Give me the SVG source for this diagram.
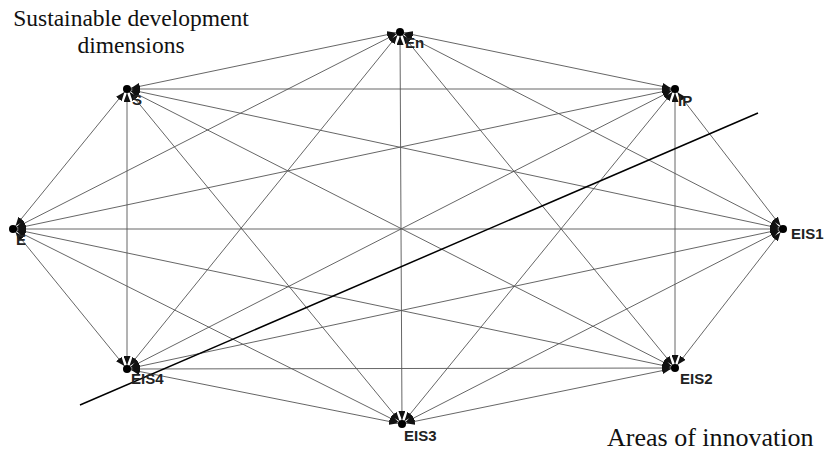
<svg xmlns="http://www.w3.org/2000/svg" width="827" height="456" viewBox="0 0 827 456">
<defs>
<marker id="ah" viewBox="0 0 14 7" markerWidth="14" markerHeight="7" refX="13" refY="3.5" orient="auto-start-reverse" markerUnits="userSpaceOnUse">
<path d="M0,0 L9,3.5 L0,7 z" fill="#111"/>
</marker>
<style>
.e{stroke:#555;stroke-width:0.9;fill:none;marker-start:url(#ah);marker-end:url(#ah)}
.d{fill:#000}
.l{font-family:"Liberation Sans",Arial,sans-serif;font-size:15px;font-weight:bold;fill:#222}
.t{font-family:"Liberation Serif","Times New Roman",serif;fill:#111}
</style>
</defs>
<rect width="827" height="456" fill="#fff"/>
<g id="connectors">
<line class="e" x1="400" y1="32" x2="127" y2="89"/>
<line class="e" x1="400" y1="32" x2="675" y2="89"/>
<line class="e" x1="400" y1="32" x2="13" y2="229"/>
<line class="e" x1="400" y1="32" x2="783" y2="229"/>
<line class="e" x1="400" y1="32" x2="127" y2="369"/>
<line class="e" x1="400" y1="32" x2="675" y2="368"/>
<line class="e" x1="400" y1="32" x2="402" y2="424"/>
<line class="e" x1="127" y1="89" x2="675" y2="89"/>
<line class="e" x1="127" y1="89" x2="13" y2="229"/>
<line class="e" x1="127" y1="89" x2="783" y2="229"/>
<line class="e" x1="127" y1="89" x2="127" y2="369"/>
<line class="e" x1="127" y1="89" x2="675" y2="368"/>
<line class="e" x1="127" y1="89" x2="402" y2="424"/>
<line class="e" x1="675" y1="89" x2="13" y2="229"/>
<line class="e" x1="675" y1="89" x2="783" y2="229"/>
<line class="e" x1="675" y1="89" x2="127" y2="369"/>
<line class="e" x1="675" y1="89" x2="675" y2="368"/>
<line class="e" x1="675" y1="89" x2="402" y2="424"/>
<line class="e" x1="13" y1="229" x2="783" y2="229"/>
<line class="e" x1="13" y1="229" x2="127" y2="369"/>
<line class="e" x1="13" y1="229" x2="675" y2="368"/>
<line class="e" x1="13" y1="229" x2="402" y2="424"/>
<line class="e" x1="783" y1="229" x2="127" y2="369"/>
<line class="e" x1="783" y1="229" x2="675" y2="368"/>
<line class="e" x1="783" y1="229" x2="402" y2="424"/>
<line class="e" x1="127" y1="369" x2="675" y2="368"/>
<line class="e" x1="127" y1="369" x2="402" y2="424"/>
<line class="e" x1="675" y1="368" x2="402" y2="424"/>
</g>
<line x1="80" y1="405" x2="758" y2="113" stroke="#000" stroke-width="1.5"/>
<g id="n-En"><circle class="d" cx="400" cy="32" r="4"/><text class="l" x="405" y="48">En</text></g>
<g id="n-S"><circle class="d" cx="127" cy="89" r="4"/><text class="l" x="132" y="105">S</text></g>
<g id="n-IP"><circle class="d" cx="675" cy="89" r="4"/><text class="l" x="678" y="106">IP</text></g>
<g id="n-E"><circle class="d" cx="13" cy="229" r="4"/><text class="l" x="16" y="245">E</text></g>
<g id="n-EIS1"><circle class="d" cx="783" cy="229" r="4"/><text class="l" x="791" y="239">EIS1</text></g>
<g id="n-EIS4"><circle class="d" cx="127" cy="369" r="4"/><text class="l" x="131" y="384">EIS4</text></g>
<g id="n-EIS2"><circle class="d" cx="675" cy="368" r="4"/><text class="l" x="680" y="384">EIS2</text></g>
<g id="n-EIS3"><circle class="d" cx="402" cy="424" r="4"/><text class="l" x="404" y="441">EIS3</text></g>
<text class="t" x="131" y="26" font-size="23.5" text-anchor="middle">Sustainable development</text>
<text class="t" x="131" y="53" font-size="23.5" text-anchor="middle">dimensions</text>
<text class="t" x="607" y="446" font-size="26">Areas of innovation</text>
</svg>
